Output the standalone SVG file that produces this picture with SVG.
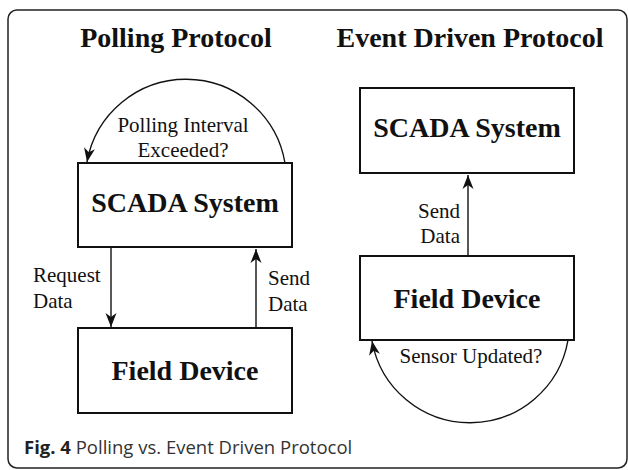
<svg xmlns="http://www.w3.org/2000/svg" width="628" height="470" viewBox="0 0 628 470">
<style>
.box{fill:#fff;stroke:#111;stroke-width:2}
.ttl{font-family:"Liberation Serif",serif;font-weight:bold;font-size:28px;fill:#111;text-anchor:middle}
.nd{font-family:"Liberation Serif",serif;font-weight:bold;font-size:28px;fill:#111;text-anchor:middle}
.lb{font-family:"Liberation Serif",serif;font-size:21px;fill:#111}
.cn{fill:none;stroke:#111;stroke-width:1.4}
.cap{font-family:"Open Sans",sans-serif;font-size:18.5px;fill:#333}
</style>
<defs>
<marker id="ah" markerUnits="userSpaceOnUse" markerWidth="16" markerHeight="12" viewBox="-14 -6 16 12" refX="0" refY="0" orient="auto">
<path d="M0,0 L-14,-5.5 L-10,0 L-14,5.5 Z" fill="#111"/>
</marker>
</defs>
<rect x="8" y="10" width="619" height="458" rx="9" fill="#fff" stroke="#222" stroke-width="1.5"/>
<text class="ttl" x="176" y="47">Polling Protocol</text>
<text class="ttl" x="470" y="47">Event Driven Protocol</text>
<g id="connectors">
<path class="cn" d="M285,163 A100.5,100.5 0 0 0 87,162" marker-end="url(#ah)"/>
<path class="cn" d="M111,248 L111,327" marker-end="url(#ah)"/>
<path class="cn" d="M256,328 L256,249" marker-end="url(#ah)"/>
<path class="cn" d="M468,256 L468,175" marker-end="url(#ah)"/>
<path class="cn" d="M568,340 A99.5,99.5 0 0 1 372,341" marker-end="url(#ah)"/>
<text class="lb" x="183" y="132" text-anchor="middle">Polling Interval</text>
<text class="lb" x="183" y="157" text-anchor="middle">Exceeded?</text>
<text class="lb" x="33" y="282">Request</text>
<text class="lb" x="33" y="308">Data</text>
<text class="lb" x="268" y="285">Send</text>
<text class="lb" x="268" y="311">Data</text>
<text class="lb" x="460" y="218" text-anchor="end">Send</text>
<text class="lb" x="460" y="243" text-anchor="end">Data</text>
<text class="lb" x="471" y="363" text-anchor="middle">Sensor Updated?</text>
</g>
<g id="poll-scada">
<rect class="box" x="78" y="163" width="214" height="84"/>
<text class="nd" x="185" y="212">SCADA System</text>
</g>
<g id="poll-field">
<rect class="box" x="78" y="328" width="214" height="85"/>
<text class="nd" x="185" y="380">Field Device</text>
</g>
<g id="event-scada">
<rect class="box" x="360" y="88" width="214" height="85"/>
<text class="nd" x="467" y="137">SCADA System</text>
</g>
<g id="event-field">
<rect class="box" x="360" y="256" width="214" height="84"/>
<text class="nd" x="467" y="308">Field Device</text>
</g>
<text class="cap" x="24" y="454"><tspan font-weight="bold" fill="#222">Fig. 4</tspan> Polling vs. Event Driven Protocol</text>
</svg>
